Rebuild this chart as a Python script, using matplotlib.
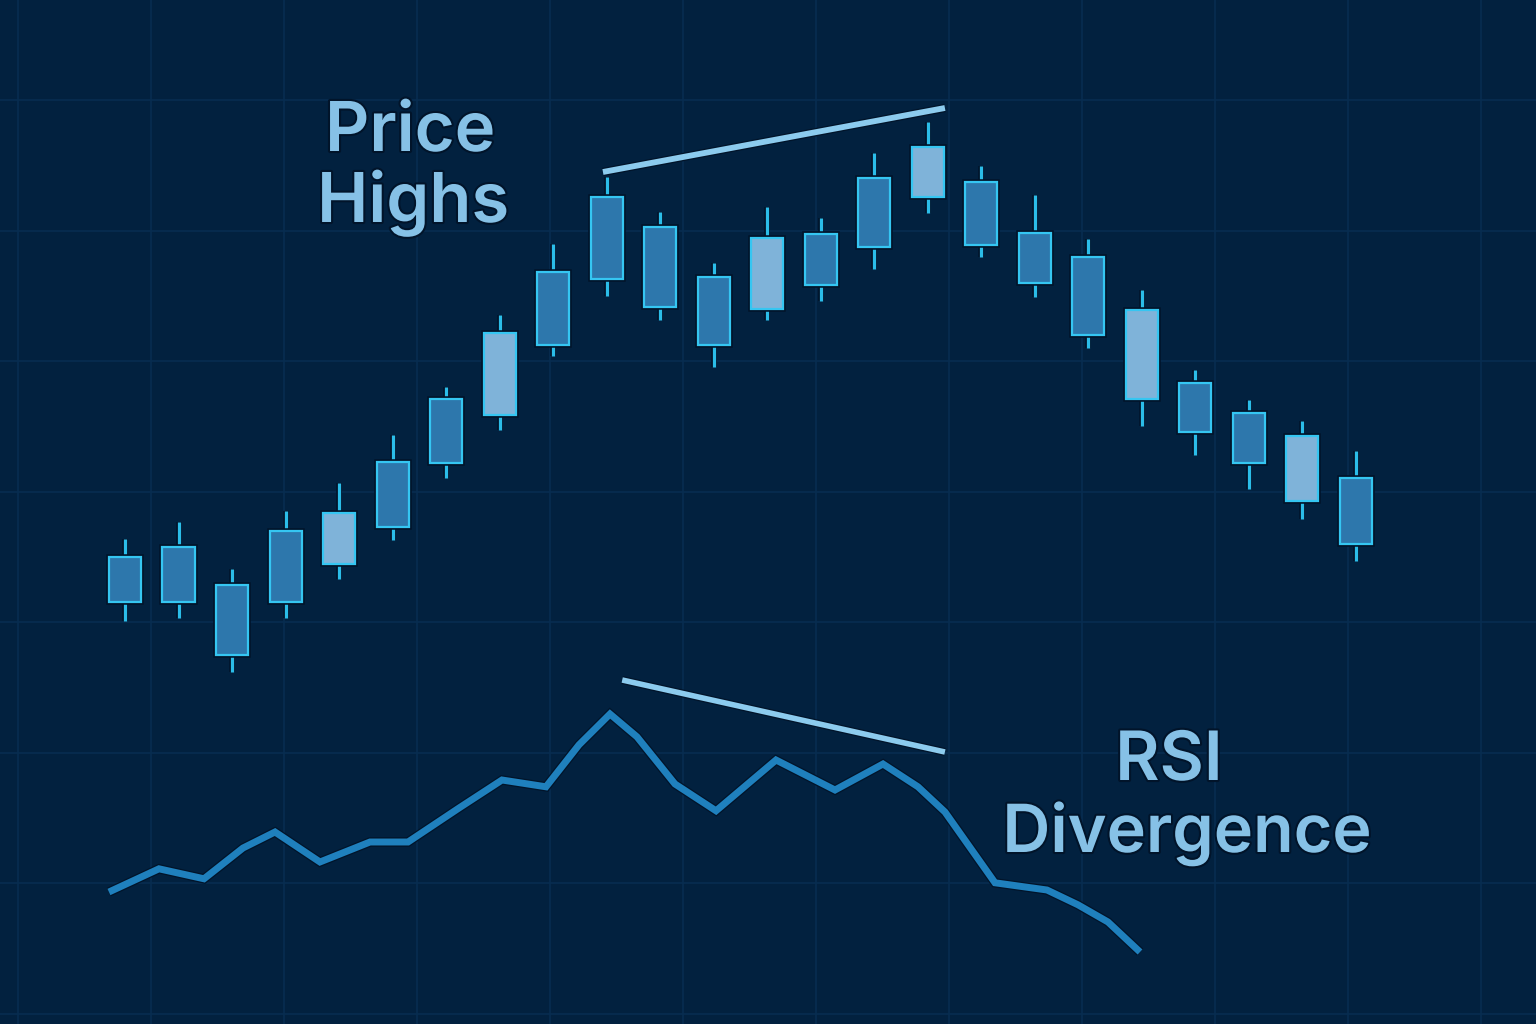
import matplotlib
matplotlib.use("Agg")
import matplotlib.pyplot as plt
import matplotlib.patheffects as pe
import numpy as np

# ---------------- data ----------------
# candle bodies (open/close), wicks (high/low) in price units
opens  = [104.3, 105.3, 101.5, 106.9, 103.6, 113.8, 120.1, 118.5, 132.8, 140.3, 137.3, 132.3,
          129.1, 136.6, 142.2, 140.3, 141.8, 136.7, 134.3, 120.1, 121.7, 118.7, 109.9, 112.2]
closes = [99.8, 99.8, 94.5, 99.8, 108.7, 107.3, 113.7, 126.7, 125.5, 132.1, 129.3, 125.5,
          136.2, 131.5, 135.3, 145.3, 135.5, 131.7, 126.5, 129.0, 116.8, 113.7, 116.4, 105.6]
highs  = [106.1, 107.8, 103.1, 108.9, 111.7, 116.5, 121.3, 128.5, 135.6, 142.3, 138.8, 133.7,
          139.3, 138.2, 144.7, 147.8, 143.4, 140.5, 136.1, 131.0, 123.0, 120.0, 117.9, 114.9]
lows   = [97.9, 98.2, 92.8, 98.2, 102.1, 106.0, 112.2, 117.0, 124.4, 130.4, 128.0, 123.3,
          128.0, 129.9, 133.1, 138.7, 134.3, 130.3, 125.2, 117.4, 114.5, 111.1, 108.1, 103.9]
highlight = [0, 0, 0, 0, 1, 0, 0, 1, 0, 0, 0, 0, 1, 0, 0, 1, 0, 0, 0, 1, 0, 0, 1, 0]

# RSI path (x in candle-index units)
rsi_x = [-0.30, 0.635, 1.476, 2.205, 2.803, 3.643, 4.578, 5.288, 6.241, 7.044, 7.866, 8.483,
         9.062, 9.566, 10.276, 11.043, 12.164, 13.266, 14.163, 14.817, 15.321, 16.256,
         17.227, 17.806, 18.367, 18.965]
rsi_y = [33.0, 38.8, 36.3, 44.0, 48.0, 40.5, 45.5, 45.5, 54.0, 61.0, 59.3, 69.8, 77.5, 71.8,
         60.0, 53.3, 66.0, 58.5, 65.0, 59.3, 53.0, 35.3, 33.5, 29.8, 25.5, 18.0]

# divergence trend lines
price_trend_x = [8.93, 15.32]
price_trend_y = [142.8, 149.2]
rsi_trend_x = [9.29, 15.32]
rsi_trend_y = [86.0, 68.0]

# ---------------- style ----------------
BG = "#02213f"
GRID = "#082d50"
DARK_BODY = "#2d77ac"
LIGHT_BODY = "#7fb3d9"
EDGE = "#35c6f2"
WICK = "#2bbde9"
OUTLINE = "#01142a"
TEXT = "#86c1e6"
TREND = "#8ccbee"
RSI_C = "#1f80bd"

W, H = 1536, 1024
fig = plt.figure(figsize=(W / 100, H / 100), dpi=100)
fig.patch.set_facecolor(BG)

# background grid axes (pixel space)
axg = fig.add_axes([0, 0, 1, 1])
axg.set_xlim(0, W)
axg.set_ylim(H, 0)
axg.set_facecolor(BG)
axg.axis("off")
for gx in np.arange(18, W, 133.0):
    axg.axvline(gx, color=GRID, lw=1.2, zorder=0)
for gy in np.arange(100 - 130.5, H, 130.5):
    axg.axhline(gy, color=GRID, lw=1.2, zorder=0)

x0 = -125 / 53.52
x1 = (W - 125) / 53.52

# price axes
ax = fig.add_axes([0, 0, 1, 1])
ax.patch.set_alpha(0)
ax.set_xlim(x0, x1)
ax.set_ylim(57.6, 160.0)
ax.axis("off")

idx = np.arange(len(opens))
wl = ax.vlines(idx, lows, highs, color=WICK, lw=2.3, zorder=2)
wl.set_path_effects([pe.Stroke(linewidth=4.0, foreground=OUTLINE), pe.Normal()])

bottoms = np.minimum(opens, closes)
heights = np.abs(np.array(closes) - np.array(opens))
fills = [LIGHT_BODY if h else DARK_BODY for h in highlight]
bars = ax.bar(idx, heights, bottom=bottoms, width=0.6, color=fills,
              edgecolor=EDGE, linewidth=1.6, zorder=3)
for b in bars:
    b.set_path_effects([pe.Stroke(linewidth=4.0, foreground=OUTLINE), pe.Normal()])

ax.plot(price_trend_x, price_trend_y, color=TREND, lw=4.2, solid_capstyle="butt", zorder=4,
        path_effects=[pe.Stroke(linewidth=6.0, foreground=OUTLINE), pe.Normal()])

# RSI axes
axr = fig.add_axes([0, 0, 1, 1])
axr.patch.set_alpha(0)
axr.set_xlim(x0, x1)
axr.set_ylim(0, 256)
axr.axis("off")
axr.plot(rsi_x, rsi_y, color=RSI_C, lw=5.0, solid_joinstyle="miter", solid_capstyle="butt",
         path_effects=[pe.Stroke(linewidth=6.8, foreground=OUTLINE), pe.Normal()], zorder=3)
axr.plot(rsi_trend_x, rsi_trend_y, color=TREND, lw=4.0, solid_capstyle="butt", zorder=4,
         path_effects=[pe.Stroke(linewidth=5.8, foreground=OUTLINE), pe.Normal()])

# labels
txt_fx = [pe.Stroke(linewidth=3, foreground=OUTLINE), pe.Normal()]
kw = dict(color=TEXT, fontfamily=["Inter", "DejaVu Sans"], fontweight="semibold",
          ha="center", va="baseline", path_effects=txt_fx, zorder=10)
axt = fig.add_axes([0, 0, 1, 1])
axt.patch.set_alpha(0)
axt.set_xlim(0, W)
axt.set_ylim(H, 0)
axt.axis("off")
axt.text(410, 151, "Price", fontsize=49.5, **kw)
axt.text(413, 222, "Highs", fontsize=49.5, **kw)
axt.text(1169, 780, "RSI", fontsize=49, **kw)
axt.text(1187, 852, "Divergence", fontsize=47.8, **kw)

fig.savefig("out.png", dpi=100, facecolor=BG)
